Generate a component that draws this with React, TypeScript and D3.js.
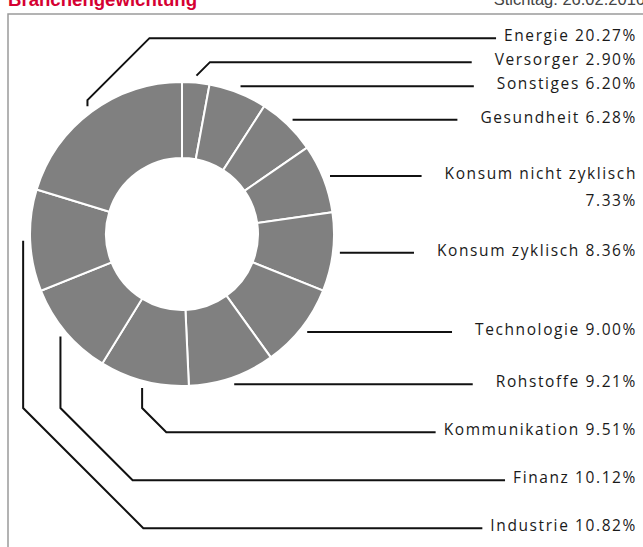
import React, { useEffect, useRef } from 'react';
import * as d3 from 'd3';

const sectors = ['Versorger', 'Sonstiges', 'Gesundheit', 'Konsum nicht zyklisch', 'Konsum zyklisch',
  'Technologie', 'Rohstoffe', 'Kommunikation', 'Finanz', 'Industrie', 'Energie'];
const weights = [2.90, 6.20, 6.28, 7.33, 8.36, 9.00, 9.21, 9.51, 10.12, 10.82, 20.27];

const title = 'Branchengewichtung';
const dateLabel = 'Stichtag: 26.02.2016';

const App = () => {
  const svgRef = useRef(null);
  const width = 643;
  const height = 547;

  useEffect(() => {
    if (!svgRef.current) return;
    const svg = d3.select(svgRef.current);
    svg.selectAll('*').remove();

    const cx = 182, cy = 234;
    const outerR = 152, innerR = 76, connR = 159;
    const textRight = 637;
    const labelFont = '"Open Sans", Lato, sans-serif';

    // frame + header
    svg.append('rect')
      .attr('x', 8).attr('y', 14).attr('width', 700).attr('height', 600)
      .attr('fill', 'none').attr('stroke', '#9a9a9a').attr('stroke-width', 1.5);

    svg.append('text')
      .attr('x', 8).attr('y', 6)
      .attr('font-family', '"Liberation Sans", Arial, sans-serif')
      .attr('font-weight', 'bold').attr('font-size', 18.6)
      .attr('fill', '#d50032')
      .text(title);

    svg.append('text')
      .attr('x', 645).attr('y', 5)
      .attr('text-anchor', 'end')
      .attr('font-family', '"Liberation Sans", Arial, sans-serif')
      .attr('font-size', 16.5).attr('fill', '#444')
      .text(dateLabel);

    const pie = d3.pie<number>().sort(null).value(d => d);
    const arcs = pie(weights);

    const arc = d3.arc<any>().innerRadius(innerR).outerRadius(outerR);
    const g = svg.append('g').attr('transform', `translate(${cx},${cy})`);
    g.selectAll('path.slice')
      .data(arcs)
      .join('path')
      .attr('class', 'slice')
      .attr('d', arc)
      .attr('fill', '#808080')
      .attr('stroke', '#fff')
      .attr('stroke-width', 2);

    // label layout
    const conn = d3.arc<any>().innerRadius(connR).outerRadius(connR);
    const items = arcs.map((a, i) => {
      const mid = (a.startAngle + a.endAngle) / 2;
      const [x, y] = conn.centroid(a);
      return {
        name: sectors[i], value: weights[i], mid,
        sx: cx + x, sy: cy + y, right: mid < Math.PI, ly: cy + y,
      };
    });

    const rightItems = items.filter(d => d.right).sort((a, b) => a.sy - b.sy);
    for (let i = rightItems.length - 2; i >= 0; i--) {
      if (rightItems[i].ly > rightItems[i + 1].ly - 24) rightItems[i].ly = rightItems[i + 1].ly - 24;
    }
    const topLeft = items.filter(d => !d.right && d.mid >= 1.5 * Math.PI).sort((a, b) => b.mid - a.mid);
    topLeft.forEach((d, k) => { d.ly = rightItems[0].ly - 24 * (k + 1); });
    const bottomLeft = items.filter(d => !d.right && d.mid < 1.5 * Math.PI).sort((a, b) => a.mid - b.mid);
    bottomLeft.forEach((d, k) => { d.ly = rightItems[rightItems.length - 1].ly + 48 * (k + 1); });

    const labels = svg.append('g')
      .attr('font-family', labelFont)
      .attr('font-size', 15.5)
      .attr('letter-spacing', 1.6)
      .attr('fill', '#1a1a1a')
      .attr('text-anchor', 'end');

    const lines = svg.append('g')
      .attr('fill', 'none').attr('stroke', '#111').attr('stroke-width', 2);

    items.forEach(d => {
      const full = `${d.name} ${d.value.toFixed(2)}%`;
      const t = labels.append('text').attr('x', textRight).attr('y', d.ly + 3);
      t.text(full);
      let bw = (t.node() as SVGTextElement).getBBox().width;
      if (bw > 215) {
        t.text(null);
        t.append('tspan').attr('x', textRight).text(d.name);
        t.append('tspan').attr('x', textRight).attr('dy', 27).text(`${d.value.toFixed(2)}%`);
        bw = (t.node() as SVGTextElement).getBBox().width;
      }
      const textStart = textRight - bw;
      const lineEnd = textStart - (d.right ? 23 : 8);

      const path = d3.path();
      path.moveTo(d.sx, d.sy);
      if (Math.abs(d.ly - d.sy) > 1) {
        const dir = d.ly > d.sy ? 1 : -1;
        let ey = d.sy;
        if (!d.right) ey = d.sy + dir * 6;
        if (!d.right && dir > 0) ey = Math.max(ey, cy + outerR + 22);
        const x0 = d.sx + Math.abs(d.ly - ey);
        path.lineTo(d.sx, ey);
        path.lineTo(x0, d.ly);
      }
      path.lineTo(lineEnd, d.ly);
      lines.append('path').attr('d', path.toString());
    });
  }, []);

  return (
    <svg
      ref={svgRef}
      width={width}
      height={height}
      style={{ position: 'absolute', left: 0, top: 0, background: '#fff' }}
    />
  );
};

export default App;
